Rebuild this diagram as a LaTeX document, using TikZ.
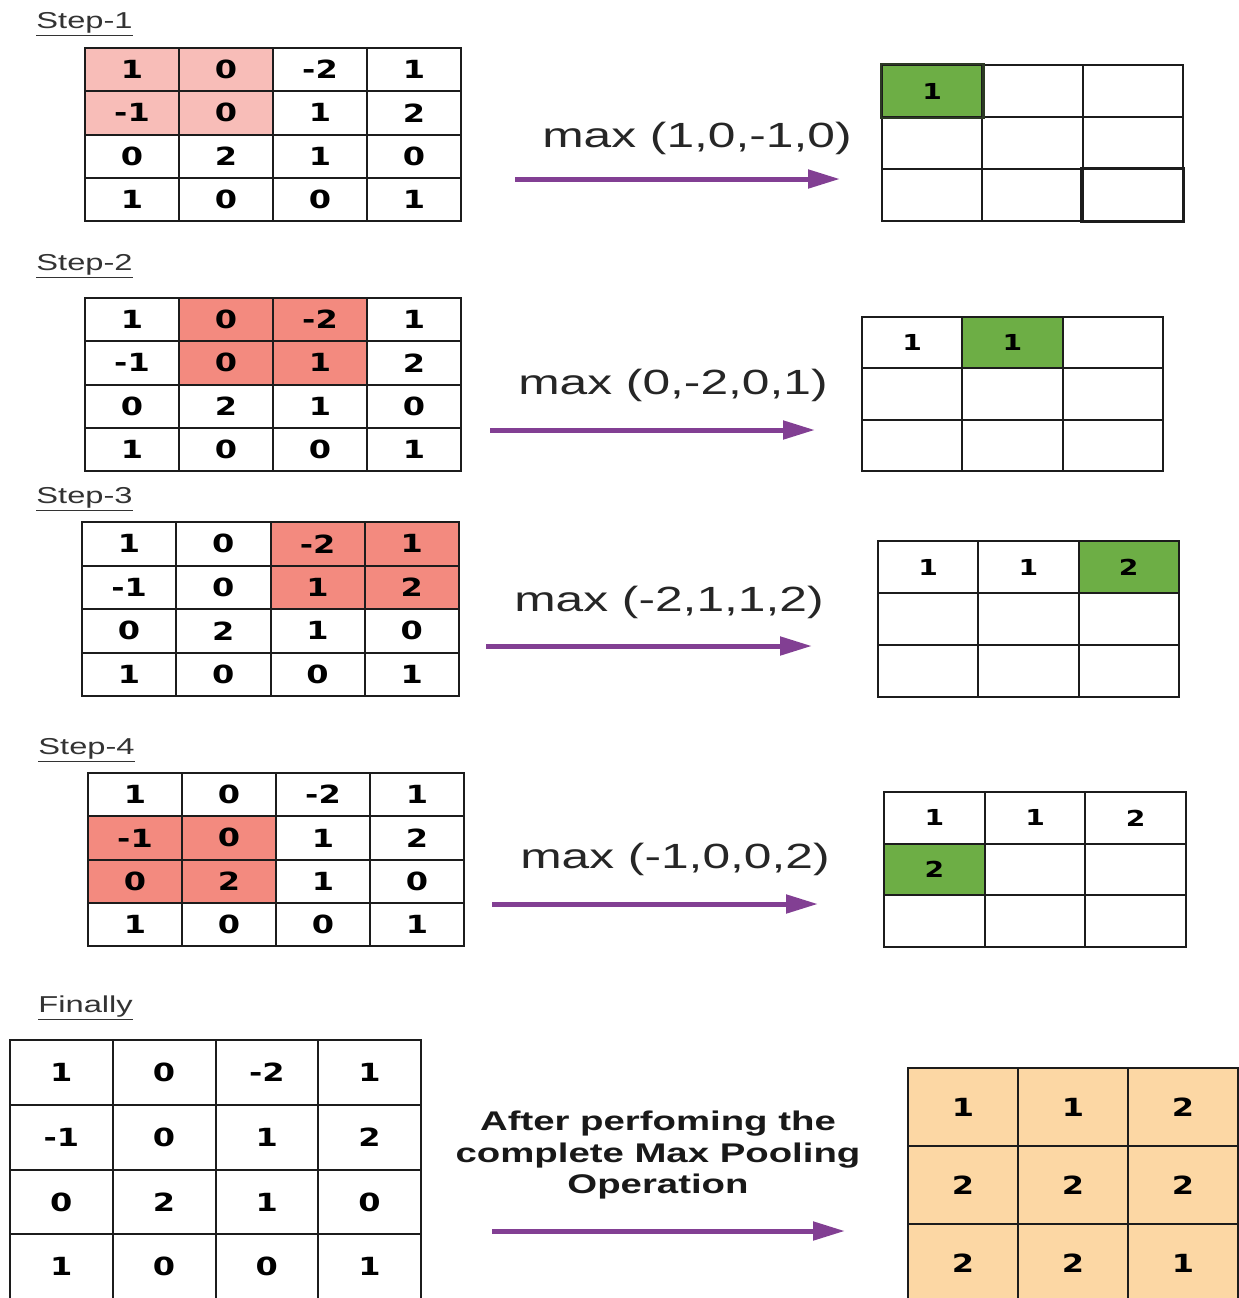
\documentclass[tikz,border=0pt]{standalone}
\usepackage{fontspec}
\setmainfont{Liberation Sans}[FakeStretch=1.42]
\newfontfamily\numfont{DejaVu Sans}[FakeStretch=1.28]
\usetikzlibrary{arrows.meta}
\definecolor{gridline}{HTML}{1C1C1C}
\definecolor{pinkA}{HTML}{F8BDB8}
\definecolor{redB}{HTML}{F38A7F}
\definecolor{greenC}{HTML}{6DAE45}
\definecolor{peachD}{HTML}{FCD7A4}
\definecolor{arrowpurple}{HTML}{823F93}
\definecolor{labelgray}{HTML}{333333}
\tikzset{
  cell/.style 2 args={draw=gridline, line width=1pt, minimum width=#1*0.5pt, minimum height=#2*0.5pt, inner sep=0pt, font=\numfont\bfseries\fontsize{12.5}{12.5}\selectfont},
  smalldigits/.style={font=\numfont\bfseries\fontsize{11}{11}\selectfont},
  steplabel/.style={anchor=base west, inner sep=0pt, text=labelgray, font=\fontsize{11.5}{13}\selectfont},
  maxlabel/.style={anchor=base, inner sep=0pt, text=black!85, font=\fontsize{17.5}{20}\selectfont},
  flow/.style={draw=arrowpurple, line width=2.5pt, -{Triangle[length=16pt,width=9pt]}},
}
% name, x0, y0, cell width, cell height, entries r/c/text/fill
\newcommand\mkgrid[7][]{%
  \foreach \r/\c/\t/\f in {#7}{%
    \node[cell={#5}{#6}, fill=\f, #1] (#2-\r-\c) at ({#3+(\c-0.5)*#5},{#4+(\r-0.5)*#6}) {\t};
  }%
}
\begin{document}
\begin{tikzpicture}[x=0.5pt,y=-0.5pt]
\useasboundingbox (0,0) rectangle (1239,1298);
\clip (0,0) rectangle (1239,1298);
\fill[white] (0,0) rectangle (1239,1298);

% ---------- Step 1 ----------
\node[steplabel] (lab1) at (36,28) {\underline{Step-1}};
\mkgrid{in1}{85}{48}{94}{43.25}{1/1/1/pinkA,1/2/0/pinkA,1/3/-2/white,1/4/1/white,
  2/1/-1/pinkA,2/2/0/pinkA,2/3/1/white,2/4/2/white,
  3/1/0/white,3/2/2/white,3/3/1/white,3/4/0/white,
  4/1/1/white,4/2/0/white,4/3/0/white,4/4/1/white}
\node[maxlabel] (max1) at (697,147) {max (1,0,-1,0)};
\coordinate (a1s) at (515,179); \coordinate (a1e) at (840,179);
\draw[flow] (a1s) -- (a1e);
\mkgrid[smalldigits]{out1}{882}{65}{100.3}{52}{1/1/1/greenC,1/2/{}/white,1/3/{}/white,
  2/1/{}/white,2/2/{}/white,2/3/{}/white,
  3/1/{}/white,3/2/{}/white,3/3/{}/white}
\draw[draw=gridline, line width=1.35pt] (out1-3-3.south west) rectangle (out1-3-3.north east);
\draw[draw=gridline!80!greenC, line width=1.3pt] (out1-1-1.south west) rectangle (out1-1-1.north east);

% ---------- Step 2 ----------
\node[steplabel] (lab2) at (36,270) {\underline{Step-2}};
\mkgrid{in2}{85}{298}{94}{43.25}{1/1/1/white,1/2/0/redB,1/3/-2/redB,1/4/1/white,
  2/1/-1/white,2/2/0/redB,2/3/1/redB,2/4/2/white,
  3/1/0/white,3/2/2/white,3/3/1/white,3/4/0/white,
  4/1/1/white,4/2/0/white,4/3/0/white,4/4/1/white}
\node[maxlabel] (max2) at (673,394) {max (0,-2,0,1)};
\coordinate (a2s) at (490,430); \coordinate (a2e) at (815,430);
\draw[flow] (a2s) -- (a2e);
\mkgrid[smalldigits]{out2}{862}{317}{100.3}{51.3}{1/1/1/white,1/2/1/greenC,1/3/{}/white,
  2/1/{}/white,2/2/{}/white,2/3/{}/white,
  3/1/{}/white,3/2/{}/white,3/3/{}/white}

% ---------- Step 3 ----------
\node[steplabel] (lab3) at (36,503) {\underline{Step-3}};
\mkgrid{in3}{82}{522}{94.25}{43.5}{1/1/1/white,1/2/0/white,1/3/-2/redB,1/4/1/redB,
  2/1/-1/white,2/2/0/white,2/3/1/redB,2/4/2/redB,
  3/1/0/white,3/2/2/white,3/3/1/white,3/4/0/white,
  4/1/1/white,4/2/0/white,4/3/0/white,4/4/1/white}
\node[maxlabel] (max3) at (669,611) {max (-2,1,1,2)};
\coordinate (a3s) at (486,646); \coordinate (a3e) at (812,646);
\draw[flow] (a3s) -- (a3e);
\mkgrid[smalldigits]{out3}{878}{541}{100.3}{52}{1/1/1/white,1/2/1/white,1/3/2/greenC,
  2/1/{}/white,2/2/{}/white,2/3/{}/white,
  3/1/{}/white,3/2/{}/white,3/3/{}/white}

% ---------- Step 4 ----------
\node[steplabel] (lab4) at (38,754) {\underline{Step-4}};
\mkgrid{in4}{88}{773}{94}{43.25}{1/1/1/white,1/2/0/white,1/3/-2/white,1/4/1/white,
  2/1/-1/redB,2/2/0/redB,2/3/1/white,2/4/2/white,
  3/1/0/redB,3/2/2/redB,3/3/1/white,3/4/0/white,
  4/1/1/white,4/2/0/white,4/3/0/white,4/4/1/white}
\node[maxlabel] (max4) at (675,868) {max (-1,0,0,2)};
\coordinate (a4s) at (492,904); \coordinate (a4e) at (818,904);
\draw[flow] (a4s) -- (a4e);
\mkgrid[smalldigits]{out4}{884}{792}{100.7}{51.7}{1/1/1/white,1/2/1/white,1/3/2/white,
  2/1/2/greenC,2/2/{}/white,2/3/{}/white,
  3/1/{}/white,3/2/{}/white,3/3/{}/white}

% ---------- Finally ----------
\node[steplabel] (lab5) at (38,1012) {\underline{Finally}};
\mkgrid{fin}{10}{1040}{102.75}{64.8}{1/1/1/white,1/2/0/white,1/3/-2/white,1/4/1/white,
  2/1/-1/white,2/2/0/white,2/3/1/white,2/4/2/white,
  3/1/0/white,3/2/2/white,3/3/1/white,3/4/0/white,
  4/1/1/white,4/2/0/white,4/3/0/white,4/4/1/white}
\node[font=\bfseries\fontsize{13.5}{15.75}\selectfont, align=center, anchor=north, inner sep=0pt, text=black!90] (ftext) at (658,1111) {After perfoming the\\complete Max Pooling\\Operation};
\coordinate (a5s) at (492,1231); \coordinate (a5e) at (845,1231);
\draw[flow] (a5s) -- (a5e);
\mkgrid{fout}{908}{1068}{110}{78}{1/1/1/peachD,1/2/1/peachD,1/3/2/peachD,
  2/1/2/peachD,2/2/2/peachD,2/3/2/peachD,
  3/1/2/peachD,3/2/2/peachD,3/3/1/peachD}
\end{tikzpicture}
\end{document}
